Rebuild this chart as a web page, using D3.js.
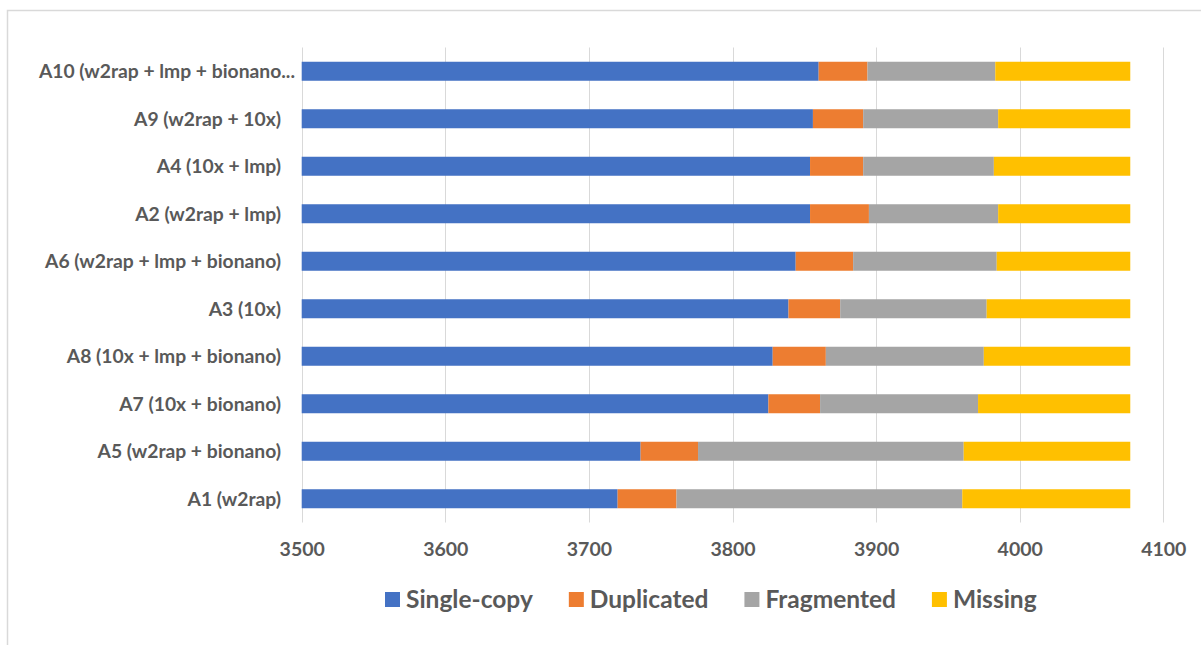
<!DOCTYPE html>
<html>
<head>
<meta charset="utf-8">
<script src="https://cdn.jsdelivr.net/npm/d3@7"></script>
<style>
  html, body { margin: 0; padding: 0; background: #ffffff; }
  svg { display: block; }
  text { font-family: Lato, "Open Sans", sans-serif; font-weight: 700; fill: #595959; }
</style>
</head>
<body>
<svg id="chart" width="1201" height="645"></svg>
<script>
// BUSCO completeness per assembly (top to bottom as drawn)
const assemblies = [
  "A10 (w2rap + lmp + bionano...",
  "A9 (w2rap + 10x)",
  "A4 (10x + lmp)",
  "A2 (w2rap + lmp)",
  "A6 (w2rap + lmp + bionano)",
  "A3 (10x)",
  "A8 (10x + lmp + bionano)",
  "A7 (10x + bionano)",
  "A5 (w2rap + bionano)",
  "A1 (w2rap)"
];
const singleCopy = [3860, 3856, 3854, 3854, 3844, 3839, 3828, 3825, 3736, 3720];
const duplicated = [34, 35, 37, 41, 40, 36, 37, 36, 40, 41];
const fragmented = [89, 94, 91, 90, 100, 102, 110, 110, 185, 199];
const missing    = [94, 92, 95, 92, 93, 100, 102, 106, 116, 117];

const seriesNames = ["Single-copy", "Duplicated", "Fragmented", "Missing"];
const seriesColors = ["#4472C4", "#ED7D31", "#A5A5A5", "#FFC000"];
const xTicks = [3500, 3600, 3700, 3800, 3900, 4000, 4100];

const svg = d3.select("#chart");

// chart frame
svg.append("rect")
  .attr("x", 7.5).attr("y", 10.5)
  .attr("width", 1300).attr("height", 700)
  .attr("fill", "none").attr("stroke", "#d9d9d9").attr("stroke-width", 1.5);

const plot = { left: 301.7, right: 1163.3, top: 47.5, bottom: 522.5 };

const x = d3.scaleLinear().domain([3500, 4100]).range([plot.left, plot.right]);
const y = d3.scaleBand().domain(assemblies).range([plot.top, plot.bottom])
  .paddingInner(0.6).paddingOuter(0.3);

// vertical gridlines
svg.append("g")
  .selectAll("line")
  .data(xTicks)
  .join("line")
  .attr("x1", d => Math.round(x(d)) + 0.5).attr("x2", d => Math.round(x(d)) + 0.5)
  .attr("y1", plot.top).attr("y2", plot.bottom)
  .attr("stroke", "#d9d9d9").attr("stroke-width", 1);

// stacked segments
const rows = assemblies.map((name, i) => ({
  name,
  "Single-copy": singleCopy[i],
  "Duplicated": duplicated[i],
  "Fragmented": fragmented[i],
  "Missing": missing[i]
}));
const stacked = d3.stack().keys(seriesNames)(rows);

svg.append("g")
  .selectAll("g")
  .data(stacked)
  .join("g")
  .attr("fill", (d, i) => seriesColors[i])
  .selectAll("rect")
  .data(d => d)
  .join("rect")
  .attr("x", d => x(Math.max(d[0], 3500)))
  .attr("width", d => x(d[1]) - x(Math.max(d[0], 3500)))
  .attr("y", d => y(d.data.name))
  .attr("height", y.bandwidth());

// category axis labels
svg.append("g")
  .selectAll("text")
  .data(assemblies)
  .join("text")
  .attr("x", (d, i) => i === 0 ? 295 : 281)
  .attr("y", d => y(d) + y.bandwidth() / 2)
  .attr("dy", "0.36em")
  .attr("text-anchor", "end")
  .attr("font-size", 19.3)
  .text(d => d);

// value axis labels
const xAxis = d3.axisBottom(x).tickValues(xTicks).tickSize(0).tickPadding(0).tickFormat(d3.format("d"));
const xg = svg.append("g").attr("transform", `translate(0,${plot.bottom})`).call(xAxis);
xg.select(".domain").remove();
xg.selectAll("text")
  .attr("y", 33.5).attr("dy", 0)
  .attr("font-size", 19.5)
  .attr("font-family", null)
  .style("font-family", "Lato, 'Open Sans', sans-serif")
  .style("font-weight", 700)
  .attr("fill", "#595959");

// legend
const legend = svg.append("g");
let lx = 385;
seriesNames.forEach((name, i) => {
  const item = legend.append("g");
  item.append("rect")
    .attr("x", lx).attr("y", 592)
    .attr("width", 15).attr("height", 15)
    .attr("fill", seriesColors[i]);
  const t = item.append("text")
    .attr("x", lx + 21).attr("y", 607.5)
    .attr("font-size", 24.5)
    .text(name);
  lx += 21 + t.node().getComputedTextLength() + 36;
});
</script>
</body>
</html>
